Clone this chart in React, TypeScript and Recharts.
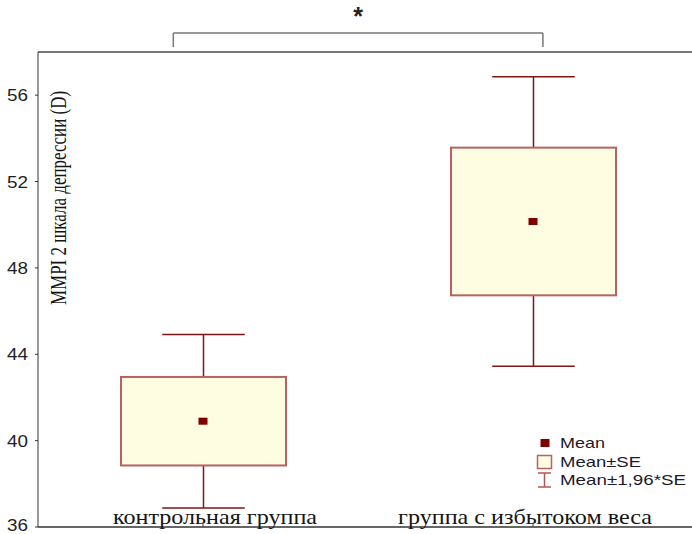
import React from 'react';
import {
    ComposedChart,
    Bar,
    Scatter,
    XAxis,
    YAxis,
    ReferenceLine,
    Legend,
} from 'recharts';

// группы сравнения
const groups = ['контрольная группа', 'группа с избытоком веса'];
// средние и стандартные ошибки по шкале D
const means = [40.9, 50.15];
const stdErrors = [2.05, 3.42];
const yTicks = [36, 40, 44, 48, 52, 56];
const legendLabels = ['Mean', 'Mean±SE', 'Mean±1,96*SE'];
const yLabel = 'MMPI 2 шкала депрессии (D)';
const significance = '*';
// скобка над графиком (в единицах скрытой числовой оси X и оси Y)
const bracketX = [-0.09, 1.03];
const bracketY = [58.23, 58.88];

const data = groups.map((name, i) => ({
    name,
    pos: i,
    mean: means[i],
    se: stdErrors[i],
    // столбец занимает весь диапазон Mean±1,96*SE, коробка рисуется внутри него
    ci: [means[i] - 1.96 * stdErrors[i], means[i] + 1.96 * stdErrors[i]],
}));

const BOX_FILL = '#fefde2';
const BOX_STROKE = '#b66262';
const WHISKER = '#7e1414';
const MEAN_FILL = '#800000';
const SANS = "'Liberation Sans', Arial, sans-serif";
const SERIF = "'Liberation Serif', 'Times New Roman', serif";

const tickShift = [12, -8];
const tickLength = [204, 254];

const CategoryTick = (props: any) => {
    const { x, y, payload, index } = props;
    return (
        <text
            x={x + tickShift[index]}
            y={y}
            textAnchor="middle"
            fontFamily={SERIF}
            fontSize={22}
            fill="#151515"
            textLength={tickLength[index]}
            lengthAdjust="spacingAndGlyphs"
        >
            {payload.value}
        </text>
    );
};

// подписи оси Y; нижнюю чуть приподнимаем, чтобы не упиралась в край
const ValueTick = (props: any) => {
    const { x, y, payload } = props;
    const lift = payload.value === yTicks[0] ? 2 : 0;
    return (
        <text
            x={x}
            y={y - lift}
            dy="0.36em"
            textAnchor="end"
            fontFamily={SANS}
            fontSize={17}
            fill="#1e1e28"
            textLength={21}
            lengthAdjust="spacingAndGlyphs"
        >
            {payload.value}
        </text>
    );
};

// коробка Mean±SE с усами Mean±1,96*SE
const BoxWhisker = (props: any) => {
    const { x, y, width, height, payload } = props;
    const [lo, hi] = payload.ci;
    const k = height / (hi - lo);
    const toY = (v: number) => y + (hi - v) * k;
    const cx = x + width / 2;
    const cap = width / 4;
    const top = toY(payload.mean + payload.se);
    const bottom = toY(payload.mean - payload.se);
    return (
        <g>
            <g stroke={WHISKER} strokeWidth={1.5}>
                <line x1={cx} y1={y} x2={cx} y2={y + height} />
                <line x1={cx - cap} y1={y} x2={cx + cap} y2={y} />
                <line x1={cx - cap} y1={y + height} x2={cx + cap} y2={y + height} />
            </g>
            <rect x={x} y={top} width={width} height={bottom - top} fill={BOX_FILL} stroke={BOX_STROKE} strokeWidth={2} />
        </g>
    );
};

const MeanDot = (props: any) => {
    const { cx, cy } = props;
    return <rect x={cx - 4.5} y={cy - 3.5} width={9} height={7} fill={MEAN_FILL} />;
};

const YLabel = (props: any) => {
    const { viewBox } = props;
    const x = viewBox.x + viewBox.width + 28;
    const y = viewBox.y + 146;
    return (
        <text
            transform={`translate(${x},${y}) scale(1.3,1) rotate(-90)`}
            textAnchor="middle"
            fontFamily={SERIF}
            fontSize={17}
            fill="#151515"
        >
            {yLabel}
        </text>
    );
};

const legendLength = [45, 81, 126];

const LegendContent = () => (
    <svg width={162} height={64} style={{ display: 'block' }}>
        <rect x={10.5} y={9} width={9} height={8} fill={MEAN_FILL} />
        <rect x={7.5} y={25.5} width={14} height={13} fill={BOX_FILL} stroke={BOX_STROKE} strokeWidth={1.5} />
        <g stroke="#b05454" strokeWidth={1.5}>
            <line x1={14.5} y1={43} x2={14.5} y2={57} />
            <line x1={8} y1={43} x2={21} y2={43} />
            <line x1={8} y1={57} x2={21} y2={57} />
        </g>
        {legendLabels.map((text, i) => (
            <text
                key={text}
                x={30}
                y={18 + i * 18.5}
                fontFamily={SANS}
                fontSize={15}
                fill="#1a1a2a"
                textLength={legendLength[i]}
                lengthAdjust="spacingAndGlyphs"
            >
                {text}
            </text>
        ))}
    </svg>
);

export default function App() {
    return (
        <div style={{ position: 'absolute', left: 0, top: 0, width: 692, height: 534, overflow: 'hidden', background: '#fff' }}>
            <ComposedChart width={698} height={534} data={data} margin={{ top: 52, right: 0, bottom: 7, left: 0 }}>
                <XAxis
                    dataKey="name"
                    mirror
                    tickSize={3}
                    tickMargin={0}
                    tick={<CategoryTick />}
                    axisLine={{ stroke: '#666', strokeWidth: 2 }}
                    tickLine={{ stroke: '#444' }}
                    interval={0}
                />
                <XAxis
                    xAxisId="top"
                    dataKey="name"
                    orientation="top"
                    mirror
                    tickSize={3}
                    tick={false}
                    axisLine={{ stroke: '#777', strokeWidth: 2 }}
                    tickLine={{ stroke: '#444' }}
                    interval={0}
                />
                <XAxis xAxisId="num" type="number" dataKey="pos" domain={[-0.5, 1.5]} allowDataOverflow hide />
                <YAxis
                    domain={[36, 58]}
                    ticks={yTicks}
                    interval={0}
                    width={38}
                    tickSize={3}
                    tickMargin={7}
                    allowDataOverflow
                    tick={<ValueTick />}
                    axisLine={{ stroke: '#333' }}
                    tickLine={{ stroke: '#333' }}
                    label={{ content: <YLabel /> }}
                />
                <Bar dataKey="ci" barSize={165} shape={<BoxWhisker />} isAnimationActive={false} />
                <Scatter dataKey="mean" shape={<MeanDot />} isAnimationActive={false} />
                <ReferenceLine
                    xAxisId="num"
                    ifOverflow="visible"
                    segment={[{ x: bracketX[0], y: bracketY[0] }, { x: bracketX[0], y: bracketY[1] }]}
                    stroke="#777"
                    strokeWidth={1.5}
                />
                <ReferenceLine
                    xAxisId="num"
                    ifOverflow="visible"
                    segment={[{ x: bracketX[1], y: bracketY[0] }, { x: bracketX[1], y: bracketY[1] }]}
                    stroke="#777"
                    strokeWidth={1.5}
                />
                <ReferenceLine
                    xAxisId="num"
                    ifOverflow="visible"
                    segment={[{ x: bracketX[0], y: bracketY[1] }, { x: bracketX[1], y: bracketY[1] }]}
                    stroke="#777"
                    strokeWidth={1.5}
                    label={{ value: significance, position: 'top', offset: 8, fontSize: 25, fontWeight: 'bold', fill: '#222', fontFamily: SANS }}
                />
                <Legend
                    content={<LegendContent />}
                    layout="horizontal"
                    verticalAlign="middle"
                    wrapperStyle={{ left: 530, top: 430, width: 162 }}
                />
            </ComposedChart>
        </div>
    );
}
